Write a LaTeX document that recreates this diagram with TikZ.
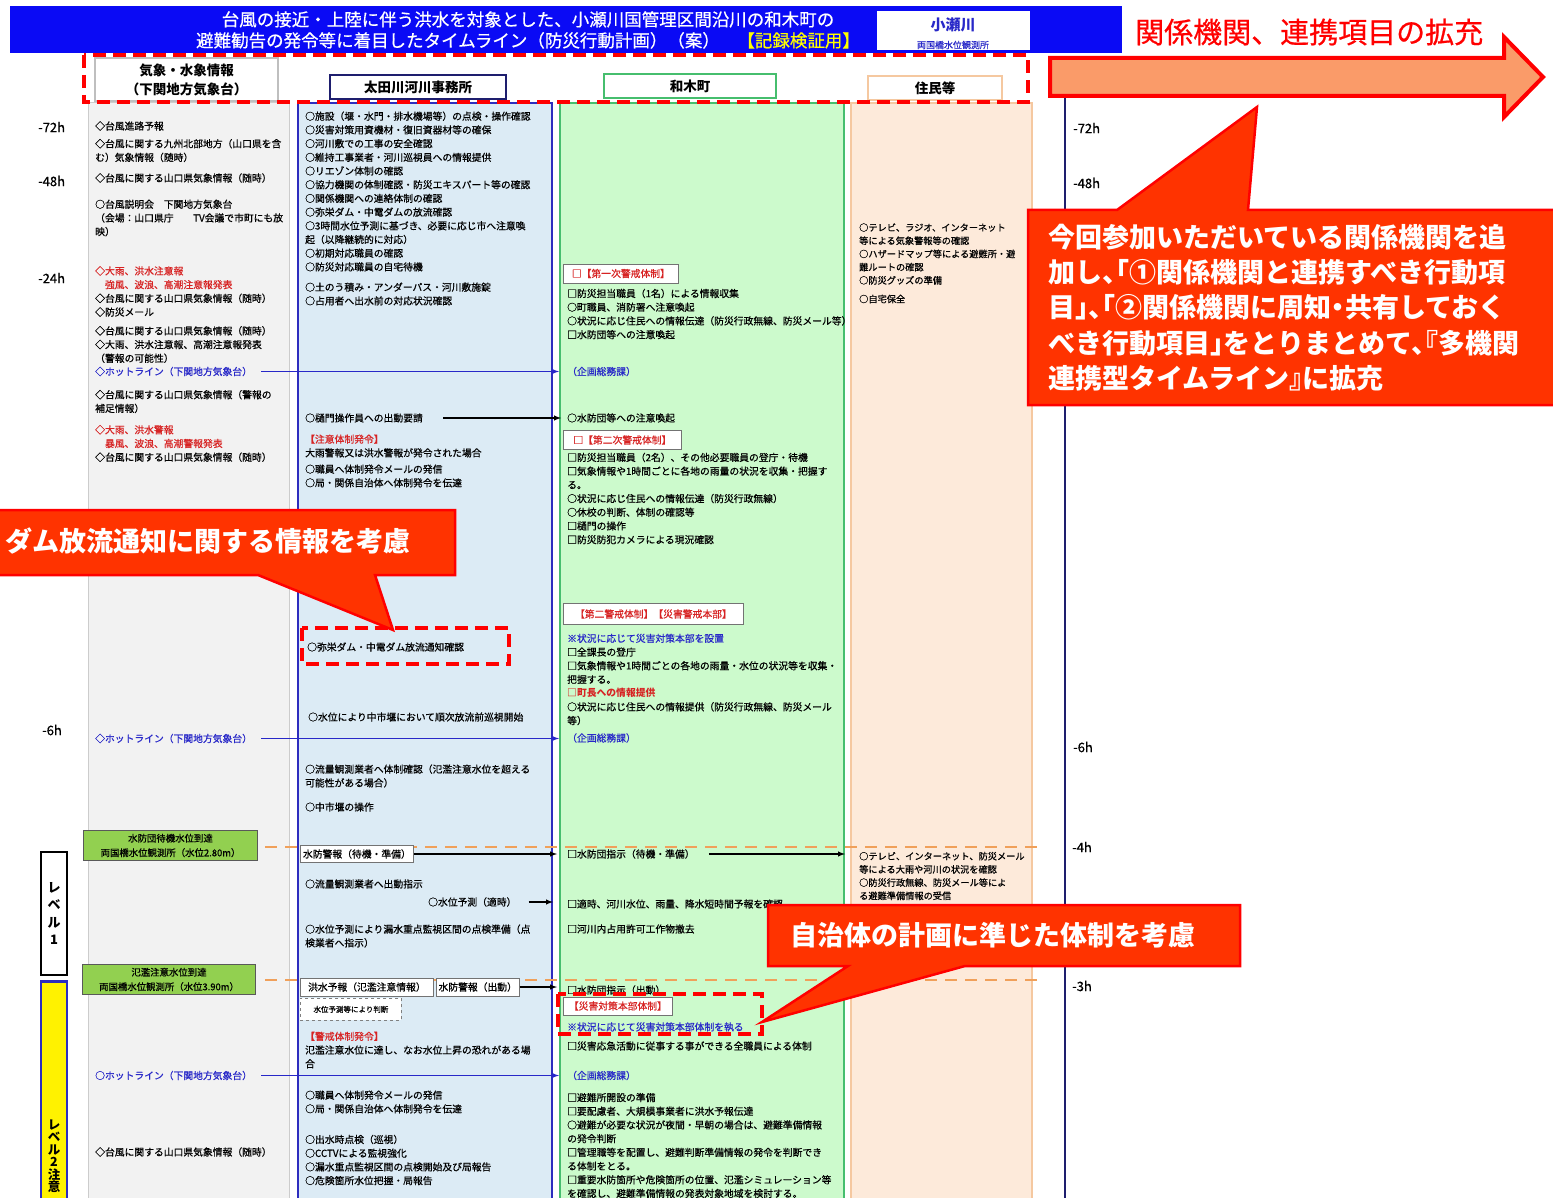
\documentclass[tikz,border=0pt]{standalone}
\usepackage{fontspec}
\setmainfont{Noto Sans CJK JP}[UprightFeatures={FakeBold=0.6}]
\newfontfamily\callfont{Noto Sans CJK JP}[RawFeature=+halt]
\usepackage{tikz}
\usetikzlibrary{positioning}
\usetikzlibrary{arrows}

\definecolor{titleblue}{RGB}{10,10,245}
\definecolor{titleyellow}{RGB}{255,255,0}
\definecolor{wxgray}{RGB}{242,242,242}
\definecolor{rvblue}{RGB}{220,235,245}
\definecolor{twgreen}{RGB}{204,250,204}
\definecolor{rspeach}{RGB}{253,234,218}
\definecolor{lineblue}{RGB}{45,45,190}
\definecolor{navy}{RGB}{30,30,110}
\definecolor{twline}{RGB}{70,190,110}
\definecolor{rsline}{RGB}{245,200,160}
\definecolor{txtred}{RGB}{215,35,35}
\definecolor{txtblue}{RGB}{40,40,200}
\definecolor{callred}{RGB}{255,51,0}
\definecolor{arrowfill}{RGB}{250,155,105}
\definecolor{lvgreen}{RGB}{146,208,80}
\definecolor{dashorange}{RGB}{240,160,90}

\newcommand{\redtxt}[1]{\textcolor{txtred}{#1}}
\newcommand{\bluetxt}[1]{\textcolor{txtblue}{#1}}

\begin{document}
\begin{tikzpicture}[x=1pt, y=-1pt,
    txt/.style = {anchor=west, align=left, inner sep=0pt, font=\fontsize{9.8}{13.7}\selectfont},
    rstxt/.style = {txt, font=\fontsize{9.2}{13.2}\selectfont},
    hdr/.style = {draw, line width=2pt, fill=white, minimum height=24pt, inner sep=0pt, align=center, font=\fontsize{13.5}{19}\bfseries\selectfont},
    tag/.style = {draw=black!55, line width=0.8pt, fill=white, anchor=west, inner sep=2pt, font=\fontsize{9.8}{12}\selectfont},
    lvl/.style = {draw=black!65, line width=1pt, fill=lvgreen, anchor=north west, align=center, inner sep=0pt, minimum height=30pt, font=\fontsize{9.4}{14.5}\selectfont},
    hour/.style = {anchor=west, inner sep=0pt, font=\fontsize{13}{15}\selectfont},
    call/.style = {draw=red, line width=2.5pt, fill=callred, line join=miter},
    calltxt/.style = {anchor=west, align=left, inner sep=0pt, text=white, font=\callfont\fontsize{27}{35.3}\bfseries\selectfont},
    reddash/.style = {draw=red, line width=4pt, dash pattern=on 13pt off 7pt},
    levelline/.style = {draw=dashorange, line width=2.5pt, dash pattern=on 12pt off 8pt},
    hot/.style = {draw=txtblue, line width=1.4pt, -latex},
    act/.style = {draw=black, line width=1.4pt, -latex}
]
\useasboundingbox (0,0) rectangle (1553,1198);
\fill[white] (0,0) rectangle (1553,1198);

% title bar
\fill[titleblue] (10,6) rectangle (1122,53);
\node[txt, anchor=center, align=center, text=white, font=\fontsize{17.5}{21}\selectfont] (title) at (528,30) {台風の接近・上陸に伴う洪水を対象とした、小瀬川国管理区間沿川の和木町の\\避難勧告の発令等に着目したタイムライン（防災行動計画）（案）　\textcolor{titleyellow}{【記録検証用】}};
\node[fill=white, minimum width=153pt, minimum height=39pt, inner sep=0pt] (gauge) at (953.5,30.5) {};
\node[text=txtblue, inner sep=0pt, font=\fontsize{15}{15}\bfseries\selectfont] (gname) at (953,25) {小瀬川};
\node[text=txtblue, inner sep=0pt, font=\fontsize{9}{9}\selectfont] (gsub) at (953,45) {両国橋水位観測所};

% columns
\filldraw[fill=wxgray, draw=black!20, line width=1pt] (88,103) rectangle (289,1210);
\filldraw[fill=rvblue, draw=lineblue, line width=1.5pt] (298,103) rectangle (552,1210);
\filldraw[fill=twgreen, draw=twline, line width=1.5pt] (560,103) rectangle (844,1210);
\filldraw[fill=rspeach, draw=rsline, line width=1.5pt] (851,103) rectangle (1032,1210);

\node[hdr, draw=black!25, minimum width=183pt, minimum height=43pt] (hwx) at (186.5,79.5) {気象・水象情報\\（下関地方気象台）};
\node[hdr, draw=navy, minimum width=176pt] (hrv) at (418,87) {太田川河川事務所};
\node[hdr, draw=twline, minimum width=172pt] (htw) at (690,86) {和木町};
\node[hdr, draw=rsline, minimum width=134pt] (hrs) at (935,88) {住民等};

% time axis
\draw[navy, line width=2pt] (1065,95) -- (1065,1210);
\node[hour] (l72) at (38,127) {-72h};
\node[hour] (l48) at (38,181) {-48h};
\node[hour] (l24) at (38,278) {-24h};
\node[hour] (l6) at (42,730) {-6h};
\node[hour] (r72) at (1073,128) {-72h};
\node[hour] (r48) at (1073,183) {-48h};
\node[hour] (r6) at (1073,747) {-6h};
\node[hour] (r4) at (1072,847) {-4h};
\node[hour] (r3) at (1072,986) {-3h};

% water levels
\draw[levelline] (265,847) -- (1040,847);
\draw[levelline] (265,980) -- (1040,980);
\node[lvl, minimum width=174pt] (lvwait) at (83,830) {水防団待機水位到達\\両国橋水位観測所（水位2.80m）};
\node[lvl, minimum width=173pt] (lvwarn) at (82,964) {氾濫注意水位到達\\両国橋水位観測所（水位3.90m）};
\node[draw=black, line width=2pt, fill=white, minimum width=26pt, minimum height=123pt, inner sep=0pt, align=center, font=\fontsize{13}{17.5}\bfseries\selectfont] (lvone) at (54,913.5) {レ\\ベ\\ル\\1};
\node[draw=lineblue, line width=2.5pt, fill=yellow, minimum width=26pt, minimum height=235pt, inner sep=0pt, anchor=north] (lvtwo) at (54,980) {};
\node[align=center, inner sep=0pt, font=\fontsize{12.5}{12.5}\bfseries\selectfont] (lvtwotxt) at (54,1156) {レ\\ベ\\ル\\2\\注\\意};

% weather office
\node[txt] (wx1) at (95,126) {◇台風進路予報};
\node[txt] (wx2) at (95,150.5) {◇台風に関する九州北部地方（山口県を含\\む）気象情報（随時）};
\node[txt] (wx3) at (95,178) {◇台風に関する山口県気象情報（随時）};
\node[txt] (wx4) at (95,218) {○台風説明会　下関地方気象台\\（会場：山口県庁　　TV会議で市町にも放\\映）};
\node[txt] (wx5) at (95,291.5) {\redtxt{◇大雨、洪水注意報}\\\redtxt{　強風、波浪、高潮注意報発表}\\◇台風に関する山口県気象情報（随時）\\◇防災メール};
\node[txt] (wx6) at (95,344.5) {◇台風に関する山口県気象情報（随時）\\◇大雨、洪水注意報、高潮注意報発表\\（警報の可能性）};
\node[txt, text=txtblue] (hl1) at (95,371.5) {◇ホットライン（下関地方気象台）};
\node[txt] (wx7) at (95,401.5) {◇台風に関する山口県気象情報（警報の\\補足情報）};
\node[txt] (wx8) at (95,443.5) {\redtxt{◇大雨、洪水警報}\\\redtxt{　暴風、波浪、高潮警報発表}\\◇台風に関する山口県気象情報（随時）};
\node[txt, text=txtblue] (hl2) at (95,738.5) {◇ホットライン（下関地方気象台）};
\node[txt, text=txtblue] (hl3) at (95,1075.5) {○ホットライン（下関地方気象台）};
\node[txt] (wx9) at (95,1152) {◇台風に関する山口県気象情報（随時）};

% river office
\node[txt] (rv1) at (305,191.5) {○施設（堰・水門・排水機場等）の点検・操作確認\\○災害対策用資機材・復旧資器材等の確保\\○河川敷での工事の安全確認\\○維持工事業者・河川巡視員への情報提供\\○リエゾン体制の確認\\○協力機関の体制確認・防災エキスパート等の確認\\○関係機関への連絡体制の確認\\○弥栄ダム・中電ダムの放流確認\\○3時間水位予測に基づき、必要に応じ市へ注意喚\\起（以降継続的に対応）\\○初期対応職員の確認\\○防災対応職員の自宅待機};
\node[txt] (rv2) at (305,294) {○土のう積み・アンダーパス・河川敷施錠\\○占用者へ出水前の対応状況確認};
\node[txt] (rv3) at (305,418) {○樋門操作員への出動要請};
\node[txt] (rv4) at (305,446) {\redtxt{【注意体制発令】}\\大雨警報又は洪水警報が発令された場合};
\node[txt] (rv5) at (305,476) {○職員へ体制発令メールの発信\\○局・関係自治体へ体制発令を伝達};
\node[txt] (rv6) at (307,647) {○弥栄ダム・中電ダム放流通知確認};
\node[txt] (rv7) at (308,717) {○水位により中市堰において順次放流前巡視開始};
\node[txt] (rv8) at (305,776) {○流量観測業者へ体制確認（氾濫注意水位を超える\\可能性がある場合）};
\node[txt] (rv9) at (305,807) {○中市堰の操作};
\node[tag, minimum width=113pt, minimum height=17pt] (bx1) at (300,854) {水防警報（待機・準備）};
\node[txt] (rv10) at (305,884) {○流量観測業者へ出動指示};
\node[txt] (rv11) at (428,902) {○水位予測（適時）};
\node[txt] (rv12) at (305,936) {○水位予測により漏水重点監視区間の点検準備（点\\検業者へ指示）};
\node[tag, minimum width=133pt, minimum height=18pt] (bx2) at (300,987) {洪水予報（氾濫注意情報）};
\node[tag, minimum width=83pt, minimum height=18pt, right=2pt of bx2] (bx3) {水防警報（出動）};
\node[tag, draw=black!50, dashed, anchor=north west, minimum width=101pt, minimum height=22pt, font=\fontsize{7.5}{9}\selectfont] (bx4) at (300,998) {水位予測等により判断};
\node[txt] (rv13) at (305,1050) {\redtxt{【警戒体制発令】}\\氾濫注意水位に達し、なお水位上昇の恐れがある場\\合};
\node[txt] (rv14) at (305,1102) {○職員へ体制発令メールの発信\\○局・関係自治体へ体制発令を伝達};
\node[txt] (rv15) at (305,1160) {○出水時点検（巡視）\\○CCTVによる監視強化\\○漏水重点監視区間の点検開始及び局報告\\○危険箇所水位把握・局報告};

% town
\node[tag, text=txtred, minimum width=115pt, minimum height=19pt] (bx5) at (563,273.5) {□【第一次警戒体制】};
\node[txt] (tw1) at (567,314) {□防災担当職員（1名）による情報収集\\○町職員、消防署へ注意喚起\\○状況に応じ住民への情報伝達（防災行政無線、防災メール等）\\□水防団等への注意喚起};
\node[txt, text=txtblue] (kg1) at (567,371.5) {（企画総務課）};
\node[txt] (tw2) at (567,418) {○水防団等への注意喚起};
\node[tag, text=txtred, minimum width=118pt, minimum height=19pt] (bx6) at (563,440) {□【第二次警戒体制】};
\node[txt] (tw3) at (567,498.5) {□防災担当職員（2名）、その他必要職員の登庁・待機\\□気象情報や1時間ごとに各地の雨量の状況を収集・把握す\\る。\\○状況に応じ住民への情報伝達（防災行政無線）\\○休校の判断、体制の確認等\\□樋門の操作\\□防災防犯カメラによる現況確認};
\node[tag, text=txtred, minimum width=180pt, minimum height=21pt] (bx7) at (563,614) {【第二警戒体制】【災害警戒本部】};
\node[txt] (tw4) at (567,679.5) {\bluetxt{※状況に応じて災害対策本部を設置}\\□全課長の登庁\\□気象情報や1時間ごとの各地の雨量・水位の状況等を収集・\\把握する。\\\redtxt{\bfseries □町長への情報提供}\\○状況に応じ住民への情報提供（防災行政無線、防災メール\\等）};
\node[txt, text=txtblue] (kg2) at (567,738) {（企画総務課）};
\node[txt] (tw5) at (567,854) {□水防団指示（待機・準備）};
\node[txt] (tw6) at (567,904) {□適時、河川水位、雨量、降水短時間予報を確認};
\node[txt] (tw7) at (567,929) {□河川内占用許可工作物撤去};
\node[txt] (tw8) at (567,990) {□水防団指示（出動）};
\node[tag, text=txtred, minimum width=109pt, minimum height=18pt] (bx8) at (563,1006) {【災害対策本部体制】};
\node[txt, text=txtblue] (tw9) at (567,1027) {※状況に応じて災害対策本部体制を執る};
\node[txt] (tw10) at (567,1046) {□災害応急活動に従事する事ができる全職員による体制};
\node[txt, text=txtblue] (kg3) at (567,1075.5) {（企画総務課）};
\node[txt] (tw11) at (567,1145.5) {□避難所開設の準備\\□要配慮者、大規模事業者に洪水予報伝達\\○避難が必要な状況が夜間・早朝の場合は、避難準備情報\\の発令判断\\□管理職等を配置し、避難判断準備情報の発令を判断でき\\る体制をとる。\\□重要水防箇所や危険箇所の位置、氾濫シミュレーション等\\を確認し、避難準備情報の発表対象地域を検討する。};

% residents
\node[rstxt] (rs1) at (859,254) {○テレビ、ラジオ、インターネット\\等による気象警報等の確認\\○ハザードマップ等による避難所・避\\難ルートの確認\\○防災グッズの準備};
\node[rstxt] (rs2) at (859,299) {○自宅保全};
\node[rstxt] (rs3) at (859,876) {○テレビ、インターネット、防災メール\\等による大雨や河川の状況を確認\\○防災行政無線、防災メール等によ\\る避難準備情報の受信};
\coordinate (rsin) at (845,854);
\coordinate (rvout) at (553,902);

% connectors
\draw[hot, shorten <=9pt, shorten >=8pt] (hl1.east) -- (hl1.east -| kg1.west);
\draw[hot, shorten <=9pt, shorten >=8pt] (hl2.east) -- (hl2.east -| kg2.west);
\draw[hot, shorten <=9pt, shorten >=8pt] (hl3.east) -- (hl3.east -| kg3.west);
\draw[act, shorten <=20pt, shorten >=6pt] (rv3.east) -- (rv3.east -| tw2.west);
\draw[act, shorten >=10pt] (bx1.east) -- (bx1.east -| tw5.west);
\draw[act, shorten <=14pt] (tw5.east) -- (rsin);
\draw[act, shorten <=12pt] (rv11.east) -- (rvout);
\draw[act, shorten >=10pt] (bx3.east) -- (bx3.east -| tw8.west);

% highlights
\draw[reddash] (84,55) rectangle (1028,102);
\draw[reddash, line width=3.5pt] (302,628) rectangle (509,664);
\draw[reddash, line width=3.5pt] (558,994) rectangle (762,1034);

% callouts
\filldraw[draw=red, line width=4pt, fill=arrowfill, line join=miter] (1050,58) -- (1504,58) -- (1504,37) -- (1543,77) -- (1504,117) -- (1504,96) -- (1050,96) -- cycle;
\node[anchor=west, inner sep=0pt, text=red, font=\fontsize{29}{30}\selectfont] (expandhead) at (1135,32) {関係機関、連携項目の拡充};
\filldraw[call] (-5,510) -- (455,510) -- (455,575) -- (375,575) -- (393,630) -- (258,575) -- (-5,575) -- cycle;
\node[calltxt] (dam) at (5,541) {ダム放流通知に関する情報を考慮};
\filldraw[call] (768,905) -- (1240,905) -- (1240,966) -- (965,966) -- (762,1022) -- (848,966) -- (768,966) -- cycle;
\node[calltxt] (local) at (790,935) {自治体の計画に準じた体制を考慮};
\filldraw[call] (1028,210) -- (1117,210) -- (1257,107) -- (1248,210) -- (1560,210) -- (1560,405) -- (1028,405) -- cycle;
\node[calltxt] (expand) at (1048,307.5) {今回参加いただいている関係機関を追\\加し、「①関係機関と連携すべき行動項\\目」、「②関係機関に周知・共有しておく\\べき行動項目」をとりまとめて、『多機関\\連携型タイムライン』に拡充};
\end{tikzpicture}
\end{document}
